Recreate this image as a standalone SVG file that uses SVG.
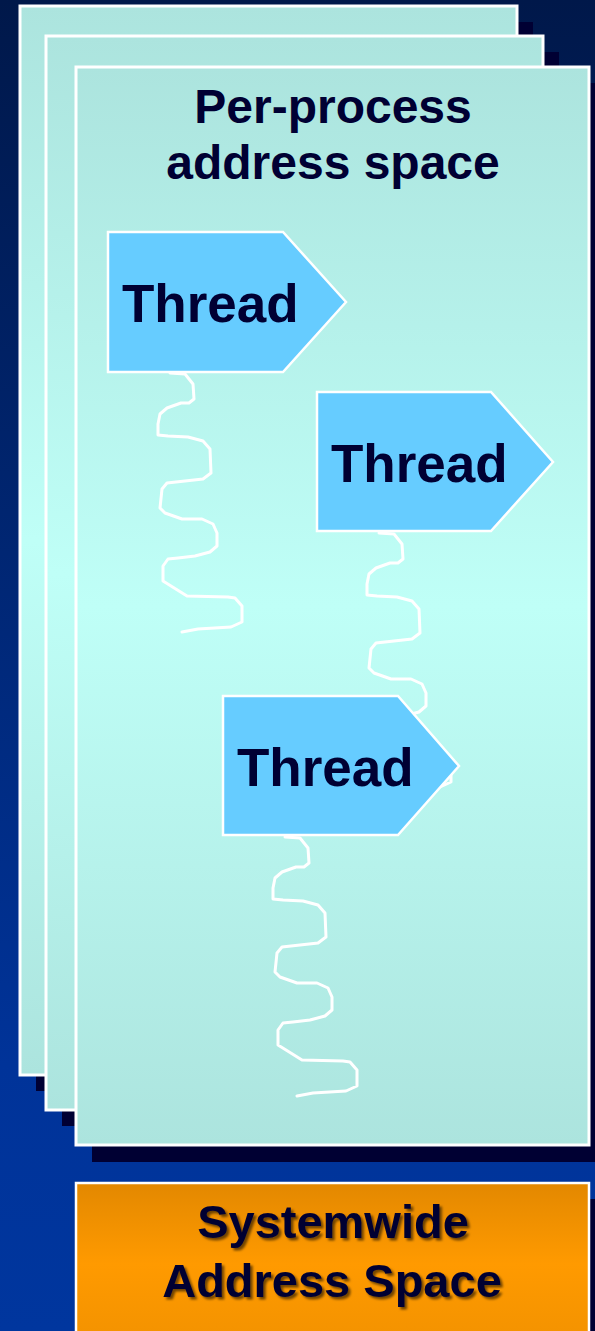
<svg xmlns="http://www.w3.org/2000/svg" width="595" height="1331" viewBox="0 0 595 1331">
  <defs>
    <linearGradient id="bg" x1="0" y1="0" x2="0" y2="1331" gradientUnits="userSpaceOnUse">
      <stop offset="0" stop-color="#00184A"/>
      <stop offset="0.8" stop-color="#003399"/>
      <stop offset="1" stop-color="#00369E"/>
    </linearGradient>
    <linearGradient id="panelFill" x1="0" y1="0" x2="0" y2="1">
      <stop offset="0" stop-color="#ACE4DE"/>
      <stop offset="0.5" stop-color="#BFFFF7"/>
      <stop offset="1" stop-color="#ACE4DE"/>
    </linearGradient>
    <linearGradient id="orangeFill" x1="0" y1="1183" x2="0" y2="1345" gradientUnits="userSpaceOnUse">
      <stop offset="0" stop-color="#E38800"/>
      <stop offset="0.5" stop-color="#FF9A00"/>
      <stop offset="1" stop-color="#F29200"/>
    </linearGradient>
    <filter id="txtShadow" x="-10%" y="-30%" width="120%" height="160%">
      <feDropShadow dx="2.5" dy="2.5" stdDeviation="1.2" flood-color="#000000" flood-opacity="0.55"/>
    </filter>
    <path id="squiggle" d="M62,141 L77,142 L85,152 L86,167 L81,171 L73,171 L59,176 L52,182 L50,192 L50,203 L60,204 L80,205 L95,209 L102,217 L103,241 L95,247 L77,249 L59,251 L54,257 L52,276 L57,281 L74,287 L94,287 L105,292 L109,301 L109,314 L102,320 L87,324 L70,326 L60,327 L55,334 L55,349 L79,364 L120,365 L127,366 L134,374 L134,390 L123,395 L90,397 L74,400"/>
    <style>
      .shadow { fill: #000033; }
      .panel { fill: url(#panelFill); stroke: #FFFFFF; stroke-width: 3; }
      .thread { fill: #66CCFF; stroke: #FFFFFF; stroke-width: 2.5; stroke-linejoin: miter; }
      .sq { fill: none; stroke: #FFFFFF; stroke-width: 3; stroke-linejoin: round; stroke-linecap: round; }
      .label { font-family: "Liberation Sans", Arial, sans-serif; font-weight: bold; fill: #000033; }
    </style>
  </defs>

  <rect x="0" y="0" width="595" height="1331" fill="url(#bg)"/>

  <g id="panel-back">
    <rect class="shadow" x="36" y="22" width="497" height="1069"/>
    <rect class="panel" x="20" y="6" width="497" height="1069"/>
  </g>
  <g id="panel-middle">
    <rect class="shadow" x="62" y="52" width="497" height="1074"/>
    <rect class="panel" x="46" y="36" width="497" height="1074"/>
  </g>
  <g id="panel-front">
    <rect class="shadow" x="92" y="83" width="513" height="1079"/>
    <rect class="panel" x="76" y="67" width="513" height="1078"/>
    <text class="label" font-size="48" text-anchor="middle" x="333" y="123">Per-process</text>
    <text class="label" font-size="48" text-anchor="middle" x="333" y="179">address space</text>
  </g>

  <g id="connectors">
    <use href="#squiggle" class="sq" transform="translate(108,232)"/>
    <use href="#squiggle" class="sq" transform="translate(317,392)"/>
    <use href="#squiggle" class="sq" transform="translate(223,696)"/>
  </g>

  <g id="thread-1">
    <polygon class="thread" points="108,232 283,232 346,302 283,372 108,372"/>
    <text class="label" font-size="53" x="122" y="322">Thread</text>
  </g>
  <g id="thread-2">
    <polygon class="thread" points="317,392 491,392 553,462 491,531 317,531"/>
    <text class="label" font-size="53" x="331" y="482">Thread</text>
  </g>
  <g id="thread-3">
    <polygon class="thread" points="223,696 398,696 459,766 398,835 223,835"/>
    <text class="label" font-size="53" x="237" y="786">Thread</text>
  </g>

  <g id="systemwide">
    <rect class="shadow" x="92" y="1199" width="513" height="160"/>
    <rect x="76" y="1183" width="513" height="170" fill="url(#orangeFill)" stroke="#FFFFFF" stroke-width="2.5"/>
    <g filter="url(#txtShadow)">
      <text class="label" font-size="47" text-anchor="middle" x="333" y="1238">Systemwide</text>
      <text class="label" font-size="47" text-anchor="middle" x="332" y="1297">Address Space</text>
    </g>
  </g>
</svg>
